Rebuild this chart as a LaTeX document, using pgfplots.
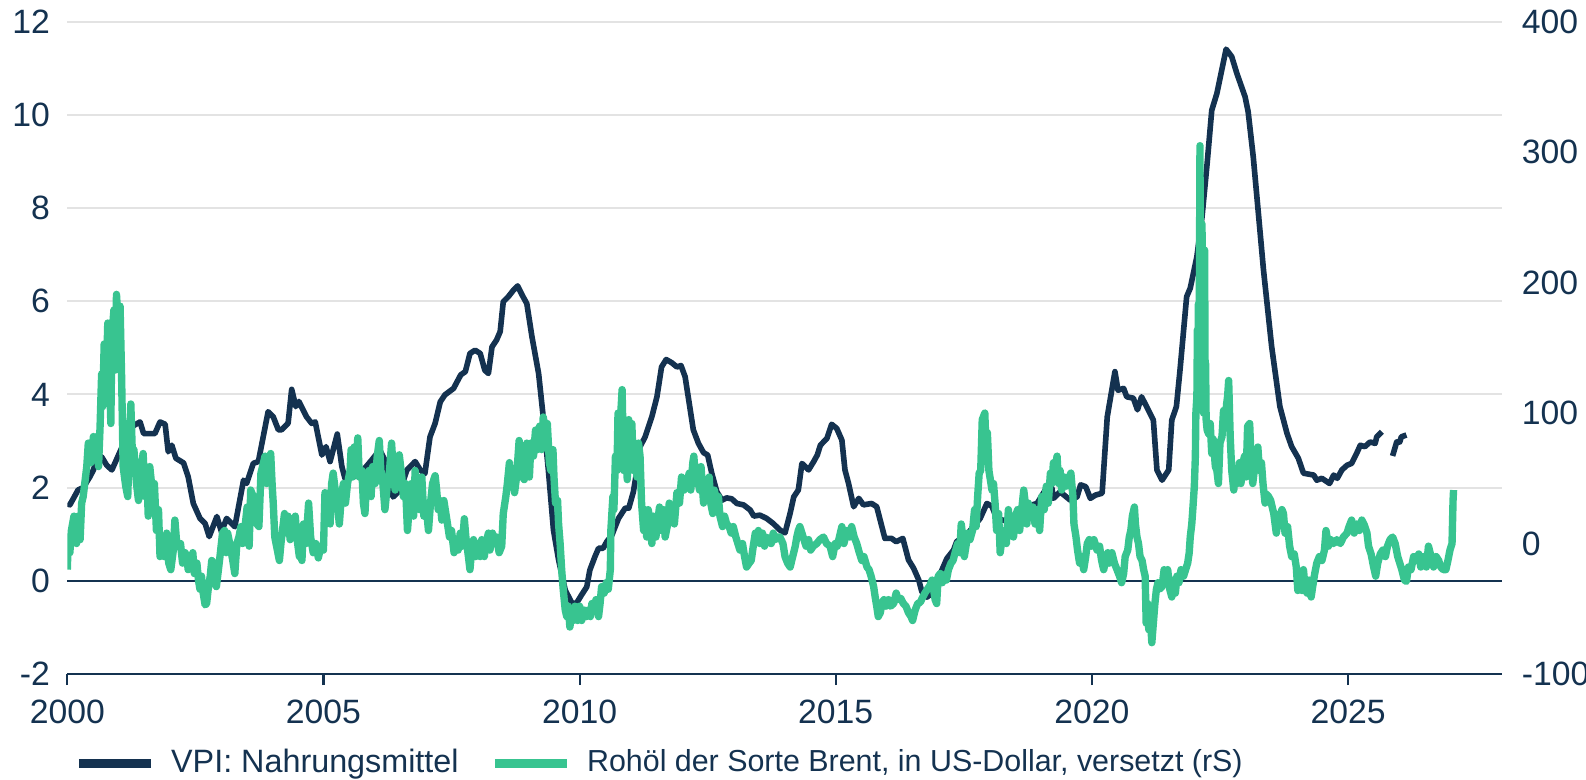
\documentclass[border=0pt]{standalone}
\usepackage{pgfplots}
\pgfplotsset{compat=1.18}
\usepackage{fontspec}
\setmainfont{Liberation Sans}
\definecolor{navy}{RGB}{20,50,80}
\definecolor{brent}{RGB}{56,196,144}
\definecolor{gridgray}{RGB}{227,227,227}
\begin{document}
\begin{tikzpicture}
\useasboundingbox (-6.73mm,-10.5mm) rectangle (151.87mm,67.4mm);
\pgfplotsset{
  every axis/.append style={
    scale only axis, width=143.44mm, height=65.23mm,
    at={(0,0)}, anchor=south west,
    xmin=2000, xmax=2028,
    font=\fontsize{9.6}{11}\selectfont,
    tick label style={text=navy},
    /pgf/number format/assume math mode=true,
    /pgf/number format/1000 sep={},
  }
}
\begin{axis}[
  ymin=-2, ymax=12,
  axis x line*=bottom, axis y line*=left,
  x axis line style={navy, line width=0.6pt},
  y axis line style={draw=none},
  xtick={2000,2005,...,2025},
  xtick style={navy, line width=0.6pt},
  major tick length=1.1mm,
  tick align=outside,
  xticklabel style={yshift=-0.3mm},
  ytick={-2,0,...,12},
  ytick style={draw=none},
  yticklabel style={xshift=0.6mm},
  ymajorgrids, grid style={gridgray, line width=0.55pt},
  extra y ticks={0}, extra y tick labels={},
  extra y tick style={grid style={navy, line width=0.6pt}, ytick style={draw=none}},
  unbounded coords=jump,
  legend columns=2,
  legend style={at={(rel axis cs:0,0)}, anchor=north west, xshift=0.67mm, yshift=-7.45mm,
    draw=none, fill=none, inner sep=0pt, text=navy,
    font=\fontsize{8.9}{11}\selectfont,
    nodes={inner sep=0pt},
    column sep=1.6mm,
    /tikz/every even column/.append style={column sep=3.2mm}},
  legend image code/.code={\draw[#1, line width=2.4pt] (0mm,0mm) -- (7.2mm,0mm);},
]
\addplot[navy, line width=1.6pt, line join=round] coordinates {
(2000.00,1.66) (2000.05,1.63) (2000.21,1.95) (2000.31,2.00) (2000.44,2.23) (2000.51,2.38)
(2000.57,2.59) (2000.67,2.66) (2000.77,2.48) (2000.87,2.38) (2001.00,2.70) (2001.13,3.02)
(2001.26,3.31) (2001.42,3.41) (2001.49,3.16) (2001.71,3.16) (2001.81,3.41) (2001.91,3.36)
(2001.97,2.77) (2002.04,2.91) (2002.12,2.63) (2002.27,2.53) (2002.36,2.23) (2002.46,1.66)
(2002.59,1.34) (2002.69,1.23) (2002.77,0.95) (2002.92,1.38) (2003.01,1.05) (2003.11,1.34)
(2003.27,1.16) (2003.44,2.16) (2003.50,2.09) (2003.63,2.52) (2003.73,2.56) (2003.92,3.63)
(2004.02,3.52) (2004.12,3.24) (2004.18,3.24) (2004.31,3.38) (2004.38,4.11) (2004.46,3.74)
(2004.52,3.85) (2004.67,3.52) (2004.77,3.38) (2004.84,3.41) (2004.97,2.70) (2005.05,2.88)
(2005.13,2.56) (2005.27,3.15) (2005.36,2.45) (2005.42,2.20) (2005.58,2.23) (2005.78,2.38)
(2005.94,2.59) (2006.10,2.81) (2006.20,2.59) (2006.30,2.09) (2006.36,1.80) (2006.50,1.95)
(2006.63,2.38) (2006.79,2.56) (2006.89,2.38) (2006.98,2.30) (2007.08,3.09) (2007.18,3.38)
(2007.28,3.84) (2007.37,3.99) (2007.54,4.13) (2007.68,4.42) (2007.77,4.49) (2007.86,4.88)
(2007.96,4.95) (2008.06,4.88) (2008.15,4.52) (2008.22,4.45) (2008.29,5.02) (2008.38,5.17)
(2008.45,5.35) (2008.51,5.99) (2008.61,6.10) (2008.71,6.24) (2008.79,6.33) (2008.88,6.13)
(2008.97,5.95) (2009.07,5.24) (2009.20,4.45) (2009.29,3.52) (2009.39,2.38) (2009.49,1.09)
(2009.59,0.45) (2009.72,-0.20) (2009.85,-0.48) (2009.94,-0.48) (2010.04,-0.30) (2010.14,-0.13)
(2010.20,0.23) (2010.30,0.52) (2010.37,0.70) (2010.46,0.70) (2010.53,0.84) (2010.63,0.98)
(2010.76,1.34) (2010.89,1.56) (2010.96,1.56) (2011.05,1.91) (2011.12,2.38) (2011.18,2.88)
(2011.28,3.09) (2011.41,3.52) (2011.51,3.95) (2011.60,4.59) (2011.69,4.75) (2011.80,4.68)
(2011.90,4.59) (2011.98,4.62) (2012.06,4.38) (2012.14,3.81) (2012.22,3.24) (2012.32,2.95)
(2012.42,2.75) (2012.50,2.70) (2012.58,2.31) (2012.68,1.91) (2012.78,1.73) (2012.87,1.78)
(2012.97,1.76) (2013.07,1.66) (2013.20,1.63) (2013.33,1.52) (2013.40,1.39) (2013.52,1.41)
(2013.65,1.34) (2013.78,1.23) (2013.91,1.09) (2014.01,1.03) (2014.11,1.45) (2014.18,1.80)
(2014.27,1.95) (2014.34,2.52) (2014.47,2.38) (2014.57,2.56) (2014.64,2.70) (2014.70,2.91)
(2014.83,3.06) (2014.92,3.36) (2015.02,3.27) (2015.12,3.02) (2015.18,2.38) (2015.25,2.09)
(2015.35,1.59) (2015.45,1.77) (2015.54,1.63) (2015.70,1.66) (2015.80,1.59) (2015.96,0.91)
(2016.09,0.91) (2016.18,0.84) (2016.31,0.91) (2016.42,0.45) (2016.52,0.27) (2016.62,0.02)
(2016.68,-0.23) (2016.78,-0.35) (2016.90,-0.25) (2017.02,0.10) (2017.17,0.48) (2017.30,0.66)
(2017.36,0.84) (2017.56,1.00) (2017.69,1.16) (2017.82,1.34) (2017.95,1.66) (2018.05,1.60)
(2018.14,1.34) (2018.27,1.30) (2018.40,1.30) (2018.55,1.45) (2018.70,1.55) (2018.80,1.62)
(2018.93,1.66) (2019.09,1.95) (2019.22,1.99) (2019.25,1.77) (2019.38,1.91) (2019.58,1.73)
(2019.71,1.80) (2019.78,2.06) (2019.88,2.02) (2019.97,1.77) (2020.07,1.84) (2020.20,1.88)
(2020.30,3.52) (2020.45,4.49) (2020.51,4.09) (2020.62,4.13) (2020.68,3.95) (2020.81,3.92)
(2020.89,3.67) (2020.97,3.95) (2021.10,3.67) (2021.20,3.45) (2021.27,2.38) (2021.37,2.16)
(2021.50,2.38) (2021.56,3.45) (2021.65,3.74) (2021.72,4.52) (2021.85,6.10) (2021.92,6.28)
(2022.05,6.96) (2022.15,7.81) (2022.25,8.96) (2022.34,10.10) (2022.44,10.46) (2022.62,11.41)
(2022.73,11.25) (2022.83,10.89) (2022.99,10.39) (2023.05,10.07) (2023.15,9.10) (2023.25,7.89)
(2023.35,6.67) (2023.51,5.02) (2023.67,3.74) (2023.81,3.16) (2023.90,2.88) (2024.03,2.63)
(2024.13,2.31) (2024.33,2.27) (2024.39,2.16) (2024.49,2.20) (2024.64,2.09) (2024.72,2.27)
(2024.79,2.20) (2024.88,2.38) (2024.98,2.48) (2025.07,2.52) (2025.17,2.74) (2025.24,2.91)
(2025.33,2.88) (2025.43,2.98) (2025.53,2.95) (2025.56,3.09) (2025.66,3.20) (2025.75,nan)
(2025.87,2.68) (2025.95,2.98) (2026.01,2.98) (2026.04,3.09) (2026.14,3.13)
};
\addlegendentry{\fontsize{9.2}{11}\selectfont VPI: Nahrungsmittel}
\addlegendimage{brent}
\addlegendentry{\fontsize{8.65}{11}\selectfont Rohöl der Sorte Brent, in US-Dollar, versetzt (rS)}
\end{axis}
\begin{axis}[
  ymin=-100, ymax=400,
  axis x line=none, axis y line*=right,
  y axis line style={draw=none},
  ytick={-100,0,...,400},
  ytick style={draw=none},
  yticklabel style={xshift=0.77mm},
]
\addplot[brent, line width=2.1pt, line join=round] coordinates {
(2000.00,-20) (2000.02,5) (2000.05,-7) (2000.08,10) (2000.13,21) (2000.18,0) (2000.21,21)
(2000.25,3) (2000.28,31) (2000.31,36) (2000.38,59) (2000.41,77) (2000.46,62) (2000.51,82)
(2000.54,67) (2000.57,82) (2000.61,59) (2000.64,90) (2000.67,130) (2000.69,105) (2000.72,153)
(2000.76,125) (2000.79,169) (2000.82,133) (2000.85,92) (2000.87,159) (2000.91,179) (2000.94,133)
(2000.96,191) (2001.00,164) (2001.03,182) (2001.06,128) (2001.09,59) (2001.14,44) (2001.18,36)
(2001.21,77) (2001.24,107) (2001.28,56) (2001.30,72) (2001.35,46) (2001.39,33) (2001.44,56)
(2001.48,69) (2001.52,36) (2001.55,56) (2001.58,21) (2001.61,59) (2001.67,36) (2001.70,46)
(2001.74,10) (2001.78,26) (2001.81,-10) (2001.84,0) (2001.89,-10) (2001.94,8) (2001.98,-15)
(2002.02,-20) (2002.07,-5) (2002.10,18) (2002.13,3) (2002.17,-2) (2002.21,0) (2002.25,-15)
(2002.30,-7) (2002.33,-10) (2002.36,-20) (2002.41,-18) (2002.45,-7) (2002.48,-23) (2002.53,-15)
(2002.56,-28) (2002.59,-35) (2002.62,-25) (2002.64,-35) (2002.69,-47) (2002.72,-46) (2002.75,-35)
(2002.79,-25) (2002.82,-13) (2002.85,-15) (2002.88,-30) (2002.91,-33) (2002.95,-20) (2002.98,-10)
(2003.03,8) (2003.07,10) (2003.10,-7) (2003.13,8) (2003.18,-2) (2003.23,-13) (2003.27,-23)
(2003.31,0) (2003.35,5) (2003.39,13) (2003.42,0) (2003.47,13) (2003.51,28) (2003.55,-2)
(2003.58,41) (2003.63,36) (2003.66,31) (2003.70,15) (2003.74,13) (2003.78,54) (2003.83,62)
(2003.86,67) (2003.89,46) (2003.92,62) (2003.97,69) (2004.00,44) (2004.02,31) (2004.05,5)
(2004.10,-5) (2004.14,-13) (2004.17,0) (2004.20,10) (2004.24,23) (2004.28,8) (2004.31,21)
(2004.35,3) (2004.39,10) (2004.45,21) (2004.48,5) (2004.53,-10)
(2004.54,5) (2004.58,-13) (2004.61,15) (2004.66,0) (2004.71,31) (2004.75,5) (2004.80,-7)
(2004.85,0) (2004.90,-11) (2004.95,-2) (2005.00,-5) (2005.03,39) (2005.08,31) (2005.13,15)
(2005.16,46) (2005.19,54) (2005.23,41) (2005.27,31) (2005.31,15) (2005.35,36) (2005.39,46)
(2005.43,31) (2005.47,46) (2005.52,56) (2005.54,72) (2005.57,51) (2005.60,74) (2005.64,62)
(2005.67,81) (2005.70,51) (2005.75,56) (2005.78,31) (2005.81,23) (2005.84,46) (2005.89,56)
(2005.93,36) (2005.96,59) (2006.01,46) (2006.05,67) (2006.09,79) (2006.12,56) (2006.16,46)
(2006.20,26) (2006.25,46) (2006.29,56) (2006.33,77) (2006.37,51) (2006.40,41) (2006.44,56)
(2006.48,68) (2006.53,51) (2006.56,36) (2006.60,46) (2006.64,10) (2006.68,31) (2006.72,46)
(2006.76,21) (2006.79,56) (2006.83,41) (2006.87,26) (2006.92,51) (2006.96,21) (2007.00,31)
(2007.05,10) (2007.09,31) (2007.13,46) (2007.18,52) (2007.21,41) (2007.24,26) (2007.28,33)
(2007.31,18) (2007.35,33) (2007.41,18) (2007.46,5) (2007.50,10) (2007.55,-7) (2007.59,0)
(2007.63,-5) (2007.67,8) (2007.71,-2) (2007.75,19) (2007.78,5) (2007.83,-10) (2007.86,-20)
(2007.90,-2) (2007.93,3) (2007.97,-10) (2008.01,0) (2008.06,-10) (2008.09,3) (2008.14,-10)
(2008.17,0) (2008.22,8) (2008.25,-5) (2008.30,8) (2008.34,0) (2008.38,5) (2008.43,-7)
(2008.48,-2) (2008.51,23) (2008.56,36) (2008.59,46) (2008.63,62) (2008.66,44) (2008.70,56)
(2008.73,39) (2008.77,51) (2008.82,79) (2008.85,67) (2008.89,51) (2008.92,49) (2008.97,77)
(2009.02,51) (2009.05,77) (2009.10,67) (2009.14,87) (2009.18,72) (2009.22,90)
(2009.23,90) (2009.26,72) (2009.29,97) (2009.35,82) (2009.37,92) (2009.41,62) (2009.44,56)
(2009.48,72) (2009.50,51) (2009.53,31) (2009.57,33) (2009.59,15) (2009.62,0) (2009.65,-20)
(2009.68,-35) (2009.72,-51) (2009.75,-56) (2009.78,-48) (2009.81,-64) (2009.85,-53) (2009.88,-59)
(2009.91,-48) (2009.96,-59) (2010.00,-48) (2010.04,-59) (2010.09,-51) (2010.13,-56) (2010.17,-51)
(2010.21,-56) (2010.24,-46) (2010.28,-51) (2010.32,-43) (2010.37,-56) (2010.40,-46) (2010.43,-33)
(2010.48,-38) (2010.52,-30) (2010.56,-35) (2010.60,-20) (2010.61,10) (2010.65,36) (2010.67,26)
(2010.70,67) (2010.73,56) (2010.75,100) (2010.78,77) (2010.80,97) (2010.83,118) (2010.86,56)
(2010.88,87) (2010.91,72) (2010.93,49) (2010.96,95) (2010.99,72) (2011.02,92) (2011.05,56)
(2011.08,77) (2011.12,51) (2011.15,77) (2011.18,67) (2011.21,31) (2011.25,10) (2011.28,26)
(2011.31,5) (2011.34,26) (2011.38,15) (2011.41,0) (2011.44,21) (2011.49,5) (2011.52,15)
(2011.56,28) (2011.60,10) (2011.64,26) (2011.67,5) (2011.72,15) (2011.75,31) (2011.79,21)
(2011.82,26) (2011.85,15) (2011.90,39) (2011.95,31) (2011.99,51) (2012.04,41) (2012.09,46)
(2012.14,54) (2012.17,41) (2012.21,62) (2012.23,67) (2012.27,46) (2012.30,56) (2012.34,41)
(2012.37,59) (2012.42,31) (2012.45,46) (2012.48,41) (2012.53,51) (2012.56,31) (2012.60,23)
(2012.63,41) (2012.68,31) (2012.71,36) (2012.74,21) (2012.79,13) (2012.83,21) (2012.87,15)
(2012.92,13) (2012.96,8) (2013.00,13) (2013.05,5) (2013.09,0) (2013.13,-5) (2013.18,0)
(2013.22,-10) (2013.26,-18) (2013.31,-15) (2013.35,-13) (2013.39,-2) (2013.43,8) (2013.46,3)
(2013.49,10) (2013.52,0) (2013.57,8) (2013.61,-2) (2013.65,5) (2013.70,3) (2013.74,0)
(2013.78,8) (2013.83,3) (2013.87,5)
(2013.91,5) (2013.97,0) (2014.01,-10) (2014.06,-15) (2014.11,-18) (2014.16,-10) (2014.21,-2)
(2014.24,5) (2014.27,10) (2014.30,13) (2014.34,8) (2014.38,3) (2014.42,-2) (2014.47,3)
(2014.51,-5) (2014.56,-2) (2014.63,0) (2014.69,3) (2014.76,5) (2014.82,0) (2014.89,-2)
(2014.94,-10) (2014.99,0) (2015.03,-2) (2015.09,8) (2015.12,13) (2015.16,0) (2015.22,10)
(2015.27,5) (2015.31,13) (2015.36,5) (2015.41,0) (2015.46,-7) (2015.51,-13) (2015.55,-10)
(2015.61,-18) (2015.65,-20) (2015.69,-25) (2015.74,-33) (2015.77,-41) (2015.80,-48) (2015.83,-56)
(2015.87,-53) (2015.90,-46) (2015.94,-43) (2015.98,-48) (2016.03,-43) (2016.07,-48) (2016.13,-46)
(2016.18,-38) (2016.22,-43) (2016.27,-42) (2016.32,-46) (2016.37,-48) (2016.42,-53) (2016.47,-56)
(2016.50,-59) (2016.55,-51) (2016.60,-46) (2016.65,-45) (2016.70,-41) (2016.74,-38) (2016.79,-35)
(2016.84,-32) (2016.88,-28) (2016.91,-35) (2016.94,-43) (2016.97,-46) (2017.00,-25) (2017.04,-23)
(2017.08,-30) (2017.12,-24) (2017.16,-28) (2017.20,-20) (2017.25,-15) (2017.29,-13) (2017.33,-7)
(2017.38,0) (2017.42,-7) (2017.45,15) (2017.48,5) (2017.51,-10) (2017.55,0) (2017.58,8)
(2017.62,3) (2017.67,10) (2017.71,26) (2017.74,13) (2017.77,36) (2017.80,54) (2017.83,56)
(2017.86,95) (2017.88,97) (2017.91,100) (2017.94,67) (2017.96,85) (2017.99,56) (2018.01,51)
(2018.05,41) (2018.08,46) (2018.11,31) (2018.14,10) (2018.18,23) (2018.21,-7) (2018.25,5)
(2018.29,10) (2018.33,0) (2018.37,26) (2018.40,10) (2018.44,21) (2018.47,5) (2018.51,21)
(2018.55,26) (2018.59,10)
(2018.63,26) (2018.67,41) (2018.70,31) (2018.73,15) (2018.76,31) (2018.80,21) (2018.85,28)
(2018.89,15) (2018.94,26) (2018.98,10) (2019.02,36) (2019.07,26) (2019.11,44) (2019.15,31)
(2019.19,54) (2019.22,46) (2019.25,62) (2019.28,56) (2019.32,67) (2019.35,46) (2019.38,56)
(2019.41,41) (2019.46,51) (2019.50,44) (2019.54,49) (2019.59,54) (2019.63,36) (2019.65,15)
(2019.69,5) (2019.72,-5) (2019.76,-15) (2019.80,-10) (2019.84,-20) (2019.88,-10) (2019.91,0)
(2019.95,3) (2019.99,-2) (2020.04,3) (2020.10,-5) (2020.15,-2) (2020.19,-13) (2020.23,-20)
(2020.26,-15) (2020.31,-7) (2020.34,-15) (2020.39,-7) (2020.44,-15) (2020.49,-20) (2020.54,-25)
(2020.58,-30) (2020.62,-23) (2020.65,-10) (2020.70,-5) (2020.73,5) (2020.76,10) (2020.79,21)
(2020.83,28) (2020.85,15) (2020.88,5) (2020.91,0) (2020.94,-10) (2020.98,-13) (2021.01,-20)
(2021.04,-25) (2021.06,-61) (2021.09,-46) (2021.11,-66) (2021.14,-56) (2021.17,-76) (2021.20,-61)
(2021.23,-46) (2021.26,-35) (2021.29,-30) (2021.32,-35) (2021.37,-33) (2021.41,-20) (2021.45,-28)
(2021.48,-20) (2021.52,-35) (2021.56,-41) (2021.59,-28) (2021.63,-38) (2021.66,-25) (2021.70,-30)
(2021.74,-20) (2021.79,-25) (2021.83,-20) (2021.87,-15) (2021.90,-7) (2021.92,5) (2021.95,15)
(2021.97,26) (2022.00,44) (2022.02,67) (2022.03,100) (2022.05,113) (2022.06,164) (2022.07,110)
(2022.08,184) (2022.09,112) (2022.11,305) (2022.12,150) (2022.13,215) (2022.14,130) (2022.15,245)
(2022.16,140) (2022.17,164) (2022.18,100) (2022.20,225) (2022.21,133) (2022.22,138) (2022.23,95)
(2022.25,87) (2022.28,84) (2022.31,92) (2022.34,69) (2022.37,80) (2022.41,59) (2022.44,56)
(2022.47,46) (2022.50,77) (2022.54,82) (2022.57,102) (2022.60,92) (2022.63,107) (2022.65,113)
(2022.67,125) (2022.70,82) (2022.73,56) (2022.77,41) (2022.80,56) (2022.84,46) (2022.88,62)
(2022.91,46) (2022.95,62) (2022.98,67) (2023.01,51) (2023.04,90) (2023.08,92) (2023.11,62)
(2023.14,46) (2023.17,56) (2023.21,67) (2023.24,74) (2023.27,56) (2023.31,62) (2023.34,46)
(2023.38,31) (2023.40,38) (2023.45,36) (2023.49,33) (2023.55,23) (2023.60,8) (2023.64,18)
(2023.71,26) (2023.74,23) (2023.77,8) (2023.82,13) (2023.86,-2) (2023.90,-10) (2023.95,-8)
(2023.99,-18) (2024.02,-36) (2024.07,-28) (2024.10,-36) (2024.13,-20) (2024.16,-33) (2024.20,-38)
(2024.24,-28) (2024.28,-41) (2024.31,-33) (2024.35,-23) (2024.39,-15) (2024.44,-10) (2024.49,-13)
(2024.54,-5) (2024.57,10) (2024.62,-2) (2024.66,3) (2024.72,0) (2024.78,3) (2024.85,0)
(2024.91,5) (2024.98,8) (2025.02,13) (2025.07,18) (2025.12,8) (2025.17,15) (2025.22,10)
(2025.27,18) (2025.32,14) (2025.37,8) (2025.40,-2) (2025.45,-8) (2025.50,-18) (2025.54,-25)
(2025.58,-15) (2025.63,-8) (2025.68,-5) (2025.73,-10) (2025.77,-2) (2025.82,3) (2025.87,5)
(2025.92,0) (2025.97,-10) (2026.01,-15) (2026.05,-20) (2026.10,-28) (2026.14,-29) (2026.18,-18)
(2026.23,-20) (2026.28,-10) (2026.33,-13) (2026.38,-8) (2026.42,-18) (2026.47,-10) (2026.53,-18)
(2026.57,-2) (2026.62,-10) (2026.67,-18) (2026.72,-10) (2026.77,-13) (2026.81,-18) (2026.86,-20)
(2026.91,-20) (2026.95,-13) (2026.99,-5) (2027.03,0) (2027.05,33) (2027.06,41)
};
\end{axis}
\end{tikzpicture}
\end{document}
